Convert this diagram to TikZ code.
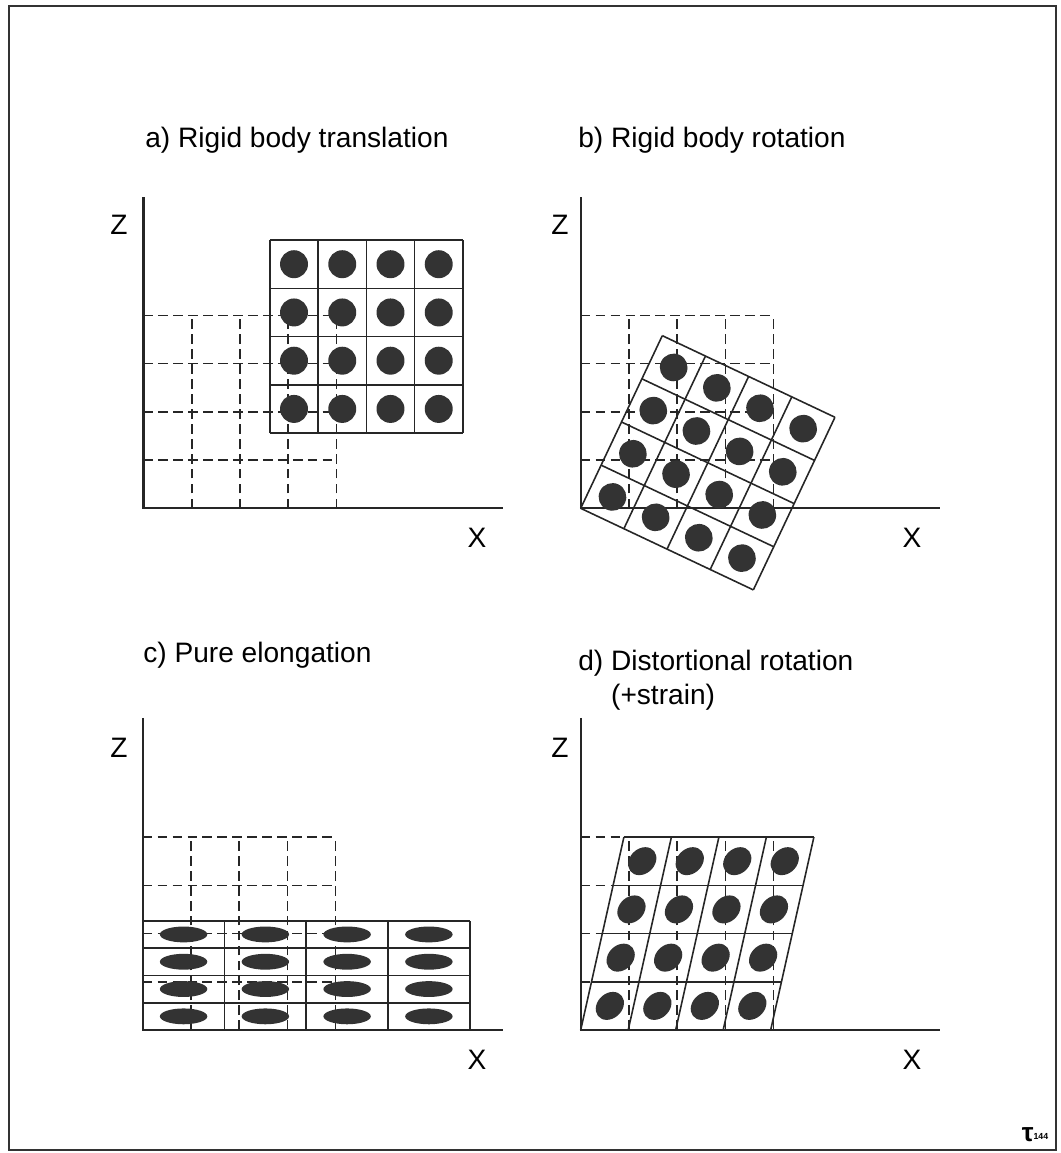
\documentclass[tikz,border=0pt]{standalone}
\usepackage{fontspec}
\setmainfont{Liberation Sans}

% 4x4 grid of unit cells in the current frame
\newcommand{\cellsgrid}[1]{%
    \foreach \k in {0,...,4} {
        \draw[#1] (\k,0) -- (\k,4);
        \draw[#1] (0,\k) -- (4,\k);
    }}
\newcommand{\celldots}{%
    \foreach \i in {0,...,3}
        \foreach \j in {0,...,3}
            \fill[dot] (\i+0.5,\j+0.5) circle (0.29);}

\begin{document}
\begin{tikzpicture}[x=0.02cm, y=-0.02cm,
        axis/.style={line width=1.2pt, black!85},
        dashgrid/.style={line width=0.9pt, black!85, dash pattern=on 5.5pt off 3pt},
        cellgrid/.style={line width=0.9pt, black!85},
        dot/.style={fill=black!80},
        lbl/.style={font=\fontsize{16}{19}\selectfont, inner sep=0pt}]
        \useasboundingbox (0,0) rectangle (1061,1153);
        \draw[line width=1.2pt, black!80] (9,6) rectangle (1056,1150);

        % titles
        \node[lbl, anchor=base west] (ta) at (145,147) {a) Rigid body translation};
        \node[lbl, anchor=base west] (tb) at (578,147) {b) Rigid body rotation};
        \node[lbl, anchor=base west] (tc) at (143,662) {c) Pure elongation};
        \node[lbl, anchor=base west, align=left] (td) at (578,704) {d) Distortional rotation\\\phantom{d) }(+strain)};

        % axis labels
        \node[lbl] (za) at (119,225) {Z};
        \node[lbl] (xa) at (477,538) {X};
        \node[lbl] (zb) at (560,225) {Z};
        \node[lbl] (xb) at (912,538) {X};
        \node[lbl] (zc) at (119,748) {Z};
        \node[lbl] (xc) at (477,1060) {X};
        \node[lbl] (zd) at (560,748) {Z};
        \node[lbl] (xd) at (912,1060) {X};

        % a) translation
        \coordinate (Oa) at (143.5,508.3);
        \begin{scope}[shift={(Oa)}, x=0.965cm, y=0.965cm]
            \cellsgrid{dashgrid}
            \draw[axis] (0,6.45) -- (0,0) -- (7.45,0);
            \begin{scope}[shift={(2.62,1.56)}]
                \cellsgrid{cellgrid}
                \celldots
            \end{scope}
        \end{scope}

        % b) rotation
        \coordinate (Ob) at (580.7,508.3);
        \begin{scope}[shift={(Ob)}, x=0.965cm, y=0.965cm]
            \cellsgrid{dashgrid}
            \draw[axis] (0,6.45) -- (0,0) -- (7.45,0);
            \begin{scope}[rotate=-25.3, x=0.955cm, y=0.955cm]
                \cellsgrid{cellgrid}
                \celldots
            \end{scope}
        \end{scope}

        % c) elongation
        \coordinate (Oc) at (142.7,1030);
        \begin{scope}[shift={(Oc)}, x=0.965cm, y=0.965cm]
            \cellsgrid{dashgrid}
            \draw[axis] (0,6.47) -- (0,0) -- (7.47,0);
            \begin{scope}[xscale=1.695, yscale=0.566]
                \cellsgrid{cellgrid}
                \celldots
            \end{scope}
        \end{scope}

        % d) distortional rotation
        \coordinate (Od) at (580.7,1030);
        \begin{scope}[shift={(Od)}, x=0.965cm, y=0.965cm]
            \cellsgrid{dashgrid}
            \draw[axis] (0,6.47) -- (0,0) -- (7.45,0);
            \begin{scope}[xslant=0.224, x=0.95cm]
                \cellsgrid{cellgrid}
                \celldots
            \end{scope}
        \end{scope}

        \node[inner sep=0pt, font=\bfseries\fontsize{15}{15}\selectfont] (logo) at (1035,1135)
            {τ\raisebox{0.2ex}{\fontsize{5}{5}\selectfont 144}};
    \end{tikzpicture}
\end{document}
